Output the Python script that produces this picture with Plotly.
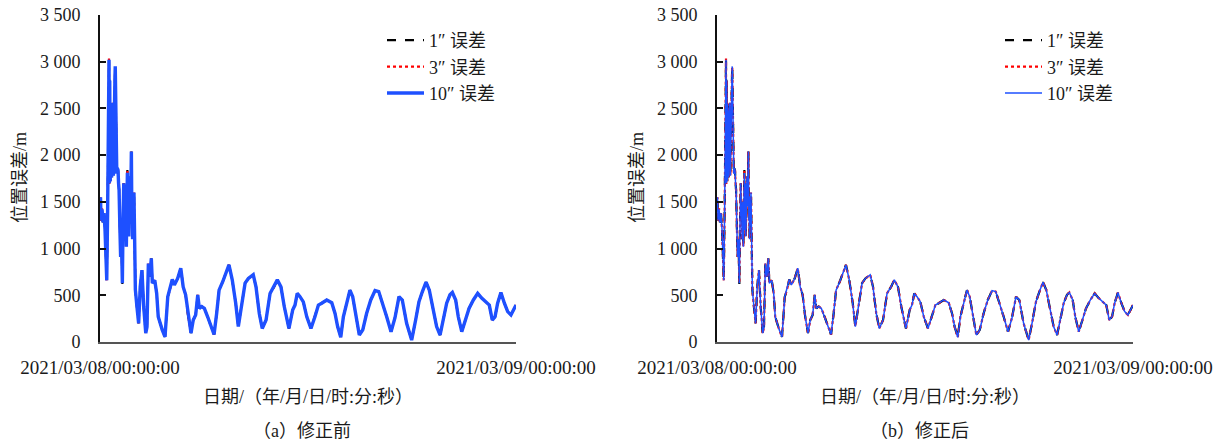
import plotly.graph_objects as go

# time in hours from 2021/03/08 00:00:00
hours = [0.00,0.03,0.06,0.12,0.17,0.23,0.29,0.39,0.44,0.46,
         0.49,0.52,0.54,0.56,0.59,0.61,0.63,0.65,0.67,0.70,
         0.72,0.74,0.77,0.80,0.84,0.86,0.88,0.91,0.94,0.97,
         1.00,1.04,1.07,1.10,1.15,1.19,1.24,1.29,1.33,1.37,
         1.40,1.42,1.45,1.48,1.52,1.55,1.58,1.61,1.64,1.66,
         1.70,1.73,1.77,1.81,1.84,1.86,1.88,1.90,1.93,1.96,
         2.00,2.04,2.13,2.23,2.32,2.42,2.52,2.64,
         2.71,2.79,2.88,2.96,3.02,3.16,3.27,3.36,3.59,3.75,
         3.91,4.04,4.17,4.29,4.48,4.66,4.80,4.94,5.09,5.25,
         5.38,5.52,5.64,5.73,5.87,6.02,6.21,6.40,6.58,6.73,
         6.87,7.08,7.27,7.44,7.63,7.83,7.98,8.18,8.37,8.56,
         8.84,9.00,9.19,9.36,9.58,9.81,10.04,10.23,10.44,10.63,
         10.90,11.12,11.25,11.38,11.54,11.73,11.93,12.17,12.40,12.60,
         12.79,13.08,13.37,13.56,13.71,13.89,14.04,14.23,14.42,14.58,
         14.77,14.96,15.16,15.38,15.62,15.87,16.08,16.31,16.54,16.79,
         17.02,17.25,17.44,17.69,17.98,18.21,18.40,18.60,18.81,19.00,
         19.19,19.42,19.62,19.81,20.00,20.19,20.33,20.52,20.67,20.87,
         21.06,21.29,21.54,21.79,22.02,22.25,22.46,22.63,22.79,22.94,
         23.13,23.33,23.52,23.71,23.88,24.00]

err10 = [1400,1550,1300,1420,1280,1380,1200,660,1400,1700,
         2750,3020,1700,2800,1720,2550,1800,2450,1760,2560,
         2100,2560,1780,2400,2600,2800,2950,2500,1900,1800,
         1860,1840,1700,1630,1200,910,1100,630,1300,1700,
         1350,1450,1100,1500,1020,1600,1810,1200,1700,1130,
         1650,1770,1450,2040,1300,1560,1100,1500,1250,1600,
         770,560,380,200,590,770,380,95,
         160,840,700,895,630,660,520,270,130,55,
         485,575,670,610,680,790,590,505,270,95,
         235,290,505,360,380,360,270,165,80,305,
         555,645,735,825,665,415,165,415,630,680,
         720,590,305,145,235,520,590,665,590,380,
         145,345,395,520,485,430,270,145,270,395,
         415,450,420,305,165,50,270,430,555,485,
         270,75,130,305,450,550,540,415,270,110,
         260,485,450,200,20,235,430,540,640,555,
         380,165,75,255,415,505,530,450,270,110,
         235,360,450,520,470,430,395,235,270,415,
         530,415,325,290,360,395]

err3 = [1400,1550,1300,1430,1280,1380,1200,660,1400,1700,
        2750,3035,1690,2800,1720,2550,1800,2450,1750,2560,
        2100,2560,1780,2400,2600,2800,2950,2500,1900,1800,
        1860,1840,1700,1630,1200,910,1100,630,1300,1700,
        1350,1450,1100,1500,1020,1600,1830,1200,1700,1130,
        1650,1770,1450,2045,1300,1560,1100,1500,1250,1600,
        770,560,380,200,590,770,380,90,
        160,840,700,895,630,660,520,270,130,55,
        485,560,670,610,680,790,590,505,270,90,
        235,290,505,360,380,360,270,165,80,305,
        555,645,735,825,665,415,165,415,630,680,
        720,590,305,145,235,520,590,665,590,380,
        145,345,395,520,485,430,270,145,270,395,
        415,450,420,305,160,50,270,430,555,485,
        270,75,130,305,450,550,540,415,270,110,
        260,485,450,200,20,235,430,540,640,555,
        380,165,75,255,415,505,530,450,270,110,
        235,360,450,520,470,430,395,235,270,415,
        530,415,325,290,360,395]

err1 = [1400,1550,1300,1420,1280,1380,1200,660,1400,1700,
        2750,3020,1700,2800,1720,2550,1800,2450,1760,2560,
        2100,2560,1780,2400,2600,2800,2950,2500,1900,1800,
        1860,1830,1700,1630,1200,910,1100,620,1300,1700,
        1350,1450,1100,1500,1020,1600,1840,1200,1700,1130,
        1650,1770,1450,2040,1300,1560,1100,1500,1250,1600,
        770,560,380,200,590,770,380,80,
        160,840,700,895,630,660,520,270,130,55,
        485,550,670,610,680,790,590,505,270,95,
        235,290,505,360,380,360,270,165,80,305,
        555,645,735,825,665,415,165,415,630,680,
        720,590,305,145,235,520,590,665,590,380,
        145,345,395,520,485,430,270,145,270,395,
        415,450,420,305,165,50,270,430,555,485,
        270,75,130,305,450,550,540,415,270,110,
        260,485,450,200,20,235,430,540,640,555,
        380,165,75,255,415,505,530,450,270,110,
        235,360,450,520,470,430,395,235,270,415,
        530,415,325,290,360,395]

assert len(hours) == len(err10) == len(err3) == len(err1)

series_names = ["1″ 误差", "3″ 误差", "10″ 误差"]
x_tickvals = [0, 24]
x_ticktext = ["2021/03/08/00:00:00", "2021/03/09/00:00:00"]
y_tickvals = [0, 500, 1000, 1500, 2000, 2500, 3000, 3500]
x_title = "日期/（年/月/日/时:分:秒）"
y_title = "位置误差/m"
subtitles = ["（a）修正前", "（b）修正后"]

W, H = 1226, 444
FONT = "Liberation Serif, Times New Roman, Noto Sans CJK SC, serif"
TXT = "#1a1a1a"
BLUE = "#1E50FF"

def px_x(p):
    return p / W

def px_y(p):
    return (H - p) / H

fig = go.Figure()

panels = [
    dict(xa="x", ya="y", legend="legend", bluew=3.4),
    dict(xa="x2", ya="y2", legend="legend2", bluew=1.5),
]
for pn in panels:
    fig.add_trace(go.Scatter(x=hours, y=err1, mode="lines", name=series_names[0],
                             xaxis=pn["xa"], yaxis=pn["ya"], legend=pn["legend"],
                             line=dict(color="#000000", width=2.2, dash="dash")))
    fig.add_trace(go.Scatter(x=hours, y=err3, mode="lines", name=series_names[1],
                             xaxis=pn["xa"], yaxis=pn["ya"], legend=pn["legend"],
                             line=dict(color="#FF0000", width=2.2, dash="dot")))
    fig.add_trace(go.Scatter(x=hours, y=err10, mode="lines", name=series_names[2],
                             xaxis=pn["xa"], yaxis=pn["ya"], legend=pn["legend"],
                             line=dict(color=BLUE, width=pn["bluew"])))

def xaxis(dom):
    return dict(domain=dom, range=[0, 24], tickvals=x_tickvals, ticktext=x_ticktext,
                ticks="inside", ticklen=5, tickwidth=1.5, tickcolor="#333",
                showline=True, linecolor="#555555", linewidth=2, showgrid=False,
                zeroline=False, ticklabelstandoff=7, automargin=False,
                tickfont=dict(family=FONT, size=19, color=TXT))

def yaxis(anchor):
    return dict(domain=[px_y(342), px_y(15)], range=[0, 3500], tickvals=y_tickvals,
                tickformat=",d", anchor=anchor, automargin=False,
                ticks="inside", ticklen=6, tickwidth=1.5, tickcolor="#111",
                showline=True, linecolor="#111111", linewidth=2, showgrid=False,
                zeroline=False, ticklabelstandoff=14,
                tickfont=dict(family=FONT, size=18, color=TXT))

xa1 = xaxis([px_x(100), px_x(516)]); xa1["anchor"] = "y"
xa2 = xaxis([px_x(717), px_x(1133)]); xa2["anchor"] = "y2"

legend_common = dict(font=dict(family=FONT, size=18, color=TXT), bgcolor="rgba(0,0,0,0)",
                     borderwidth=0, xanchor="left", yanchor="top", tracegroupgap=0,
                     itemwidth=37)

annotations = []
for cx, sub in [((100 + 516) / 2, subtitles[0]), ((717 + 1133) / 2, subtitles[1])]:
    annotations.append(dict(x=px_x(cx), y=px_y(397), xref="paper", yref="paper",
                            text=x_title, showarrow=False, xanchor="center", yanchor="middle",
                            font=dict(family=FONT, size=18, color=TXT)))
    annotations.append(dict(x=px_x(cx - 6), y=px_y(431), xref="paper", yref="paper",
                            text=sub, showarrow=False, xanchor="center", yanchor="middle",
                            font=dict(family=FONT, size=18, color=TXT)))
for yx in [20, 637]:
    annotations.append(dict(x=px_x(yx), y=px_y(178), xref="paper", yref="paper",
                            text=y_title, showarrow=False, textangle=-90,
                            xanchor="center", yanchor="middle",
                            font=dict(family=FONT, size=18, color=TXT)))

fig.update_layout(
    width=W, height=H,
    margin=dict(l=0, r=0, t=0, b=0, pad=0, autoexpand=False),
    paper_bgcolor="white", plot_bgcolor="white",
    separators=". ",
    xaxis=xa1, yaxis=yaxis("x"),
    xaxis2=xa2, yaxis2=yaxis("x2"),
    legend=dict(x=px_x(382), y=px_y(22), **legend_common),
    legend2=dict(x=px_x(1000), y=px_y(22), **legend_common),
    annotations=annotations,
    showlegend=True,
)

fig.write_html("out.html")
